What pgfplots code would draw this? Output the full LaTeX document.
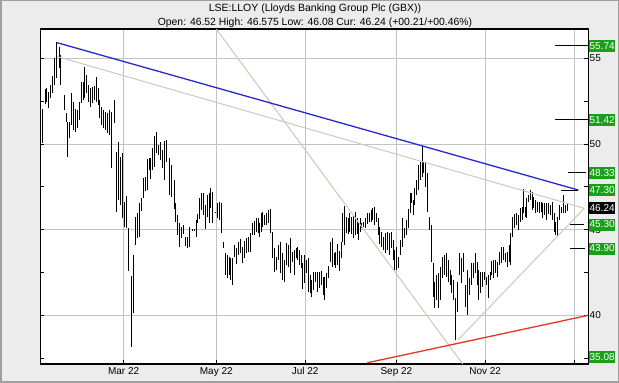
\documentclass[border=0pt]{standalone}
\usepackage{fontspec}
\setmainfont{Liberation Sans}
\usepackage{pgfplots}
\usepackage{pgfplotstable}
\pgfplotsset{compat=1.18}
\definecolor{bgouter}{RGB}{160,160,160}
\definecolor{bginner}{RGB}{236,236,236}
\definecolor{gridc}{RGB}{195,195,195}
\definecolor{trendblue}{RGB}{40,40,210}
\definecolor{trendgrey}{RGB}{205,200,190}
\definecolor{trendred}{RGB}{225,55,35}
\definecolor{labgreen}{RGB}{25,160,25}

\pgfplotstableread{
x lo hi
42.0 50.06 52.04
45.0 52.34 53.21
46.7 52.45 53.27
48.3 52.10 53.04
50.7 52.69 53.44
52.3 52.98 53.97
54.7 53.44 55.02
56.7 53.85 55.95
59.0 54.44 55.66
60.7 53.44 55.20
64.0 51.98 52.86
66.3 51.28 51.81
67.7 49.24 51.28
69.3 50.35 51.28
71.3 51.11 52.98
73.3 50.82 52.45
75.3 50.70 52.04
77.3 50.93 51.98
79.3 51.40 52.45
81.3 52.39 53.62
83.3 52.57 53.62
84.7 52.69 54.49
86.3 52.98 54.03
88.3 52.45 53.44
90.0 52.16 53.27
92.3 52.39 53.33
94.7 52.57 53.39
96.7 52.45 53.91
98.3 52.28 53.27
99.7 51.52 52.57
101.5 51.11 52.16
103.6 50.93 51.98
105.6 50.82 51.87
107.6 50.64 51.81
109.6 50.53 51.98
111.5 48.60 51.87
114.0 51.23 52.57
116.7 46.03 49.53
118.3 46.73 50.12
120.3 46.44 49.24
122.3 45.68 49.47
124.3 45.15 46.61
126.3 45.10 46.96
128.3 42.59 45.10
131.3 38.15 42.29
133.7 40.13 43.52
135.7 44.10 45.74
137.3 44.51 45.97
139.3 44.57 46.56
141.3 46.09 46.85
143.3 46.85 48.02
145.0 47.26 48.07
147.0 47.31 49.12
149.0 48.48 49.18
150.7 47.96 49.18
152.7 48.48 49.77
154.7 48.66 50.47
156.7 49.47 50.70
158.3 49.36 49.94
160.3 49.07 50.12
162.7 48.60 49.65
164.3 47.90 50.18
166.3 48.95 50.23
169.3 47.02 49.18
171.7 46.91 48.77
174.0 46.21 47.90
175.7 45.45 46.56
177.3 44.69 45.86
179.3 43.99 45.39
181.3 44.51 45.15
183.3 44.75 45.27
185.3 44.05 44.57
187.3 43.93 44.57
189.3 43.99 45.15
192.3 44.95 45.02
194.0 44.95 45.02
196.0 44.57 45.56
197.7 45.39 45.91
199.3 45.62 46.85
201.0 46.15 47.14
203.0 45.86 47.14
205.0 45.04 46.44
207.0 45.74 47.02
209.0 45.39 47.14
210.7 46.26 47.43
212.7 45.39 47.20
215.0 45.97 46.03
217.3 45.68 46.56
219.3 45.56 46.61
221.7 44.80 46.56
223.3 43.93 44.28
225.3 42.35 43.64
227.0 42.18 43.52
229.0 42.35 43.40
230.7 42.06 43.35
232.7 41.77 43.35
234.5 43.40 44.10
236.7 42.99 43.93
238.7 43.52 44.28
240.7 43.64 44.45
242.7 43.05 43.99
244.7 43.35 44.34
246.7 43.64 44.51
248.7 43.70 44.57
250.7 43.70 44.80
252.7 44.69 45.39
254.0 44.69 45.50
256.0 44.86 45.68
258.0 44.80 45.68
259.7 44.57 45.39
261.3 44.86 45.97
262.7 45.15 46.03
264.7 45.27 45.86
266.7 45.27 45.97
268.7 45.39 46.15
270.3 44.80 46.21
272.3 43.35 44.86
274.3 42.53 43.93
276.7 42.64 43.40
278.3 43.23 44.10
280.3 42.47 44.28
282.3 42.06 43.64
284.0 41.94 43.23
286.0 42.94 44.22
288.0 42.82 44.10
290.0 42.47 44.51
292.0 43.11 43.70
294.0 42.35 43.81
296.0 43.35 43.93
297.7 43.23 43.99
299.3 42.94 43.81
301.0 42.76 43.52
302.7 41.53 43.05
304.7 41.89 43.52
306.7 42.47 43.23
308.0 41.36 43.35
310.0 41.30 42.35
311.3 41.07 42.06
313.3 41.48 42.53
315.3 41.94 42.53
317.3 41.36 42.53
319.3 41.59 42.53
321.3 41.77 42.59
323.0 41.19 42.24
324.7 40.89 42.24
326.3 41.59 42.47
328.0 42.18 42.88
330.0 43.11 44.28
332.0 42.82 44.51
334.0 42.94 43.64
335.7 42.76 43.70
337.3 42.94 44.16
339.3 42.59 43.75
341.0 43.35 44.28
342.7 44.28 45.97
344.3 44.10 46.38
346.3 44.80 45.74
348.0 44.75 45.68
349.7 44.86 45.97
351.7 44.75 45.74
353.3 44.51 45.86
355.3 44.69 46.03
357.0 44.75 45.68
358.3 44.40 45.45
360.0 44.86 45.68
361.7 45.10 45.39
363.3 45.15 45.45
365.3 45.10 45.68
367.3 45.33 45.97
369.0 45.45 45.97
371.0 45.45 46.15
372.7 45.56 46.26
374.5 45.27 46.32
376.3 45.45 45.97
378.0 44.69 45.68
379.7 44.16 45.15
381.7 43.99 44.86
383.7 43.81 44.57
385.3 43.64 44.80
387.3 43.81 44.86
389.0 43.52 44.80
391.0 43.93 44.86
393.0 43.23 44.40
394.7 42.64 43.81
396.7 42.64 43.99
398.7 42.76 43.40
400.5 43.52 44.40
402.3 43.99 45.68
404.3 44.51 45.10
406.0 44.69 45.56
408.0 45.10 46.21
410.0 45.97 47.14
411.7 46.56 47.14
413.0 45.86 46.73
414.7 46.44 47.43
416.7 47.02 47.90
418.7 47.31 48.77
420.3 47.90 48.95
422.0 48.07 49.88
423.7 48.31 48.95
425.7 47.49 48.89
427.3 46.03 48.31
429.3 44.98 45.74
431.0 43.11 45.27
433.0 41.07 43.05
434.7 40.43 41.94
436.7 40.89 42.35
438.7 40.43 42.47
440.7 40.89 42.82
442.7 42.18 43.40
444.5 42.35 43.52
446.3 42.24 43.64
448.0 41.94 43.23
450.0 41.77 42.64
451.7 41.30 42.35
453.7 40.89 42.06
455.7 38.56 41.01
457.3 40.19 41.94
459.3 42.35 43.64
461.3 41.89 43.35
463.3 42.53 43.64
465.3 40.48 41.77
467.3 40.02 42.64
469.3 41.19 42.18
471.3 41.77 43.05
473.3 42.18 43.05
475.3 42.47 43.64
477.0 41.77 43.11
478.7 40.89 42.64
480.7 41.30 42.53
482.7 41.65 42.53
484.7 42.06 42.53
486.7 41.77 42.24
488.3 41.01 42.35
490.0 42.06 42.53
491.7 42.35 43.17
493.3 42.18 43.23
495.3 42.47 43.23
497.3 42.24 43.11
499.3 42.94 43.70
501.3 43.05 43.99
503.0 43.23 43.99
505.0 43.11 43.64
507.0 42.82 43.70
509.0 43.11 44.10
510.7 42.94 44.80
512.5 44.57 45.74
514.3 45.10 45.91
516.3 45.27 45.97
518.0 44.98 45.86
520.0 45.45 46.26
522.0 45.56 46.32
523.3 45.97 47.37
525.0 45.74 46.32
526.7 45.68 46.85
528.7 46.61 47.02
530.3 46.73 47.31
532.0 46.15 47.20
533.7 46.26 46.91
535.7 45.97 46.73
537.3 46.03 46.61
539.3 45.97 46.61
541.0 46.03 46.61
542.7 45.68 46.56
544.7 45.86 46.56
546.3 45.56 46.56
548.3 45.91 46.56
550.3 45.86 46.44
552.3 45.56 46.61
554.3 44.86 45.97
555.7 44.69 45.45
557.7 44.57 45.74
559.3 45.56 46.44
561.3 45.97 46.32
563.3 45.97 47.02
565.0 45.97 46.44
567.0 46.08 46.575
}\bars

\begin{document}
\begin{tikzpicture}
\fill[bgouter] (0,0) rectangle (619pt,383pt);
\fill[bginner] (1.5pt,1.5pt) rectangle (617.5pt,381.5pt);
\node[font=\fontsize{10.5}{12}\selectfont, inner sep=0pt] at (315pt,374pt) {LSE:LLOY (Lloyds Banking Group Plc (GBX))};
\node[font=\fontsize{10.4}{12}\selectfont, inner sep=0pt] at (315pt,360.5pt) {Open: 46.52 High: 46.575 Low: 46.08 Cur: 46.24 (+00.21/+00.46\%)};
\begin{axis}[
  at={(40.3pt,19pt)}, anchor=south west,
  scale only axis, width=547.9pt, height=335pt,
  xmin=40.3, xmax=588.2, ymin=37.16, ymax=56.71,
  axis background/.style={fill=white},
  axis line style={line width=1.2pt, black},
  xtick={123.6,216.3,305.2,396.4,485.2,574.4},
  xticklabels={Mar 22,May 22,Jul 22,Sep 22,Nov 22,},
  xtick pos=bottom,
  ytick={40,45,50,55},
  minor ytick={37.5,42.5,47.5,52.5},
  yticklabel pos=right,
  ytick pos=both,
  grid=major,
  major grid style={gridc, line width=0.9pt},
  tick style={black, line width=0.8pt},
  major tick length=4pt, minor tick length=4pt,
  tick align=inside,
  ticklabel style={font=\fontsize{10}{12}\selectfont},
  yticklabel style={xshift=-2pt},
  /pgf/number format/assume math mode=true,
  clip mode=individual,
]
\addplot[draw=none, mark=none, forget plot,
  error bars/.cd, y dir=minus, y explicit, error mark=none,
  error bar style={black, line width=0.8pt}]
  table[x=x, y=hi, y error minus expr=\thisrow{hi}-\thisrow{lo}] {\bars};
% trend lines
\addplot[trendgrey, line width=1pt] coordinates {(57.2,55.10) (584.3,46.25)};
\addplot[trendgrey, line width=1pt] coordinates {(216.3,56.71) (462.7,37.16)};
\addplot[trendgrey, line width=1pt] coordinates {(458.0,38.56) (584.3,46.25)};
\addplot[trendblue, line width=1.3pt] coordinates {(57.2,55.91) (578.4,47.31)};
\addplot[trendred, line width=1.3pt] coordinates {(367.2,37.23) (588.2,40.00)};
% target levels
\addplot[black, line width=1pt] coordinates {(555.0,55.74) (588.2,55.74)};
\addplot[black, line width=1pt] coordinates {(555.0,51.42) (588.2,51.42)};
\addplot[black, line width=1pt] coordinates {(568.0,48.33) (586.0,48.33)};
\addplot[black, line width=1pt] coordinates {(561.0,47.30) (578.0,47.30)};
\addplot[black, line width=1pt] coordinates {(570.0,45.30) (584.0,45.30)};
\addplot[black, line width=1pt] coordinates {(570.0,43.90) (585.0,43.90)};
% level boxes
\tikzset{lvl/.style={fill=labgreen, text=white, anchor=west, inner xsep=0.6pt, inner ysep=0pt, minimum height=12pt, font=\fontsize{10}{12}\selectfont}}
\node[lvl] at (axis cs:588.8,55.74) {55.74};
\node[lvl] at (axis cs:588.8,51.42) {51.42};
\node[lvl] at (axis cs:588.8,48.33) {48.33};
\node[lvl] at (axis cs:588.8,47.30) {47.30};
\node[lvl, fill=black] at (axis cs:588.8,46.24) {46.24};
\node[lvl] at (axis cs:588.8,45.30) {45.30};
\node[lvl] at (axis cs:588.8,43.90) {43.90};
\node[lvl] at (axis cs:588.8,37.55) {35.08};
\end{axis}
\end{tikzpicture}
\end{document}
